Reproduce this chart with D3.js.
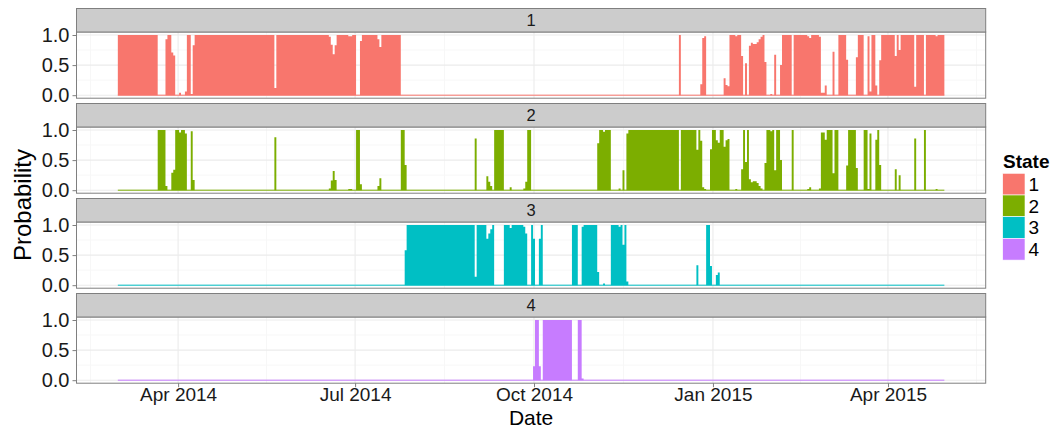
<!DOCTYPE html>
<html><head><meta charset="utf-8">
<script src="https://cdn.jsdelivr.net/npm/d3@7"></script>
<style>
body{margin:0;background:#fff}
svg{display:block}
text{font-family:"Liberation Sans",Arial,Helvetica,sans-serif}
</style>
</head><body>
<svg id="chart" width="1052" height="429"></svg>
<script>
// ---- data ----
const startDate = "2014-03-01";   // first daily observation
const stateNames = ["1", "2", "3", "4"];
const stateColors = ["#F8766D", "#7CAE00", "#00BFC4", "#C77CFF"];

const state1 = [
1,1,1,1,1,1,1,1,1,1,
1,1,1,1,1,1,1,1,1,1,
1,0,0,0,0,.93,1,1,.71,.66,
0,0,.04,0,0,.06,1,1,.02,.83,
1,1,1,1,1,1,1,1,1,1,
1,1,1,1,1,1,1,1,1,1,
1,1,1,1,1,1,1,1,1,1,
1,1,1,1,1,1,1,1,1,1,
1,.12,1,1,1,1,1,1,1,1,
1,1,1,1,1,1,1,1,1,1,
1,1,1,1,1,1,1,1,1,.97,
.84,.68,.83,1,1,1,1,1,1,.98,
.98,1,1,0,0,.9,1,1,1,1,
1,1,1,1,.93,.8,1,1,1,1,
1,1,1,1,1,1,0,0,0,0,
0,0,0,0,0,0,0,0,0,0,
0,0,0,0,0,0,0,0,0,0,
0,0,0,0,0,0,0,0,0,0,
0,0,0,0,0,0,0,0,0,0,
0,0,0,0,0,0,0,0,0,0,
0,0,0,0,0,0,0,0,0,0,
0,0,0,0,0,0,0,0,0,0,
0,0,0,0,0,0,0,0,0,0,
0,0,0,0,0,0,0,0,0,0,
0,0,0,0,0,0,0,0,0,0,
0,0,0,0,0,0,0,0,0,0,
0,0,0,0,0,0,0,0,0,0,
0,0,0,0,0,0,0,0,0,0,
0,0,0,0,0,0,0,0,0,1,
0,0,0,0,0,0,0,0,0,0,
.18,.95,.98,0,0,0,0,0,0,0,
0,0,.28,.17,.15,1,1,1,.98,1,
1,.65,0,.53,0,.82,.87,.85,.85,.88,
.93,.97,1,.55,0,0,.02,0,.67,0,
0,.5,1,1,1,1,1,0,1,1,
1,1,1,1,1,.98,.95,1,1,1,
1,.97,.04,.04,.16,0,0,0,.72,0,
0,1,1,1,1,.59,0,0,0,0,
.63,1,1,1,0,0,.98,.06,1,1,
.16,0,.58,1,1,1,1,1,1,1,
.65,1,.75,1,1,1,1,1,1,1,
.14,1,1,1,1,0,1,1,1,1,
1,.98,1,1,1,1
];

const state2 = [
0,0,0,0,0,0,0,0,0,0,
0,0,0,0,0,0,0,0,0,0,
0,1,1,1,1,.07,0,0,.29,.34,
1,1,.96,1,1,.94,0,0,.98,.17,
0,0,0,0,0,0,0,0,0,0,
0,0,0,0,0,0,0,0,0,0,
0,0,0,0,0,0,0,0,0,0,
0,0,0,0,0,0,0,0,0,0,
0,.88,0,0,0,0,0,0,0,0,
0,0,0,0,0,0,0,0,0,0,
0,0,0,0,0,0,0,0,0,.03,
.16,.32,.17,0,0,0,0,0,0,.02,
.02,0,0,1,1,.1,0,0,0,0,
0,0,0,0,.07,.2,0,0,0,0,
0,0,0,0,0,0,1,1,.42,0,
0,0,0,0,0,0,0,0,0,0,
0,0,0,0,0,0,0,0,0,0,
0,0,0,0,0,0,0,0,0,0,
0,0,0,0,.86,0,0,0,0,0,
.23,.14,.07,0,1,1,1,1,1,0,
0,0,.05,0,0,0,0,0,0,.03,
.14,1,1,0,0,0,0,0,0,0,
0,0,0,0,0,0,0,0,0,0,
0,0,0,0,0,0,0,0,0,0,
0,0,0,0,0,0,0,.78,1,1,
.97,1,1,1,0,0,0,0,.03,0,
.33,0,.94,1,1,1,1,1,1,1,
1,1,1,1,1,1,1,1,1,1,
1,1,1,1,1,1,1,1,1,0,
1,1,1,1,1,1,1,1,.67,1,
.82,.05,.02,0,0,.68,1,1,.83,.79,
1,1,.72,.83,.85,0,0,0,.02,0,
0,.35,1,.47,1,.18,.13,.15,.15,.12,
.07,.03,0,.45,1,1,.98,1,.33,1,
1,.5,0,0,0,0,0,1,0,0,
0,0,0,0,0,.02,.05,0,0,0,
0,.03,.96,.96,.84,1,1,1,.28,1,
1,0,0,0,0,.41,1,1,1,1,
.37,0,0,0,1,1,.02,.94,0,0,
.84,1,.42,0,0,0,0,0,0,0,
.35,0,.25,0,0,0,0,0,0,0,
.86,0,0,0,0,1,0,0,0,0,
0,.02,0,0,0,0
];

const state3 = [
0,0,0,0,0,0,0,0,0,0,
0,0,0,0,0,0,0,0,0,0,
0,0,0,0,0,0,0,0,0,0,
0,0,0,0,0,0,0,0,0,0,
0,0,0,0,0,0,0,0,0,0,
0,0,0,0,0,0,0,0,0,0,
0,0,0,0,0,0,0,0,0,0,
0,0,0,0,0,0,0,0,0,0,
0,0,0,0,0,0,0,0,0,0,
0,0,0,0,0,0,0,0,0,0,
0,0,0,0,0,0,0,0,0,0,
0,0,0,0,0,0,0,0,0,0,
0,0,0,0,0,0,0,0,0,0,
0,0,0,0,0,0,0,0,0,0,
0,0,0,0,0,0,0,0,.58,1,
1,1,1,1,1,1,1,1,1,1,
1,1,1,1,1,1,1,1,1,1,
1,1,1,1,1,1,1,1,1,1,
1,1,1,1,.14,1,1,1,1,1,
.77,.86,.93,1,0,0,0,0,0,1,
1,1,.95,1,1,1,1,1,1,.97,
.86,0,0,1,.77,0,0,.77,1,0,
0,0,0,0,0,0,0,0,0,0,
0,0,0,0,1,1,1,0,0,.97,
1,1,1,1,1,1,1,.22,0,0,
.03,0,0,0,1,1,1,1,.97,1,
.67,1,.06,0,0,0,0,0,0,0,
0,0,0,0,0,0,0,0,0,0,
0,0,0,0,0,0,0,0,0,0,
0,0,0,0,0,0,0,0,.33,0,
0,0,0,1,1,.32,0,0,.17,.21,
0,0,0,0,0,0,0,0,0,0,
0,0,0,0,0,0,0,0,0,0,
0,0,0,0,0,0,0,0,0,0,
0,0,0,0,0,0,0,0,0,0,
0,0,0,0,0,0,0,0,0,0,
0,0,0,0,0,0,0,0,0,0,
0,0,0,0,0,0,0,0,0,0,
0,0,0,0,0,0,0,0,0,0,
0,0,0,0,0,0,0,0,0,0,
0,0,0,0,0,0,0,0,0,0,
0,0,0,0,0,0,0,0,0,0,
0,0,0,0,0,0
];

const state4 = [
0,0,0,0,0,0,0,0,0,0,
0,0,0,0,0,0,0,0,0,0,
0,0,0,0,0,0,0,0,0,0,
0,0,0,0,0,0,0,0,0,0,
0,0,0,0,0,0,0,0,0,0,
0,0,0,0,0,0,0,0,0,0,
0,0,0,0,0,0,0,0,0,0,
0,0,0,0,0,0,0,0,0,0,
0,0,0,0,0,0,0,0,0,0,
0,0,0,0,0,0,0,0,0,0,
0,0,0,0,0,0,0,0,0,0,
0,0,0,0,0,0,0,0,0,0,
0,0,0,0,0,0,0,0,0,0,
0,0,0,0,0,0,0,0,0,0,
0,0,0,0,0,0,0,0,0,0,
0,0,0,0,0,0,0,0,0,0,
0,0,0,0,0,0,0,0,0,0,
0,0,0,0,0,0,0,0,0,0,
0,0,0,0,0,0,0,0,0,0,
0,0,0,0,0,0,0,0,0,0,
0,0,0,0,0,0,0,0,0,0,
0,0,0,0,.23,1,1,.23,0,1,
1,1,1,1,1,1,1,1,1,1,
1,1,1,1,0,0,0,1,1,.03,
0,0,0,0,0,0,0,0,0,0,
0,0,0,0,0,0,0,0,0,0,
0,0,0,0,0,0,0,0,0,0,
0,0,0,0,0,0,0,0,0,0,
0,0,0,0,0,0,0,0,0,0,
0,0,0,0,0,0,0,0,0,0,
0,0,0,0,0,0,0,0,0,0,
0,0,0,0,0,0,0,0,0,0,
0,0,0,0,0,0,0,0,0,0,
0,0,0,0,0,0,0,0,0,0,
0,0,0,0,0,0,0,0,0,0,
0,0,0,0,0,0,0,0,0,0,
0,0,0,0,0,0,0,0,0,0,
0,0,0,0,0,0,0,0,0,0,
0,0,0,0,0,0,0,0,0,0,
0,0,0,0,0,0,0,0,0,0,
0,0,0,0,0,0,0,0,0,0,
0,0,0,0,0,0,0,0,0,0,
0,0,0,0,0,0
];

const xTickDates = ["2014-04-01", "2014-07-01", "2014-10-01", "2015-01-01", "2015-04-01"];
const xTickLabels = ["Apr 2014", "Jul 2014", "Oct 2014", "Jan 2015", "Apr 2015"];
const yTicks = [0, 0.5, 1];
const yTickLabels = ["0.0", "0.5", "1.0"];
const yMinorTicks = [0.25, 0.75];

// ---- layout ----
const svg = d3.select("#chart");
const W = 1052, H = 429;
const L = 76.5, R = 985.7;
const stripTop0 = 8.5, facetStep = 95, stripH = 23.5, panelH = 66.2;
const seriesList = [state1, state2, state3, state4];

const parse = d3.utcParse("%Y-%m-%d");
const t0 = parse(startDate);
const n = state1.length;
const dates = d3.range(n).map(i => d3.utcDay.offset(t0, i));
const t1 = dates[n - 1];
const pad = (R - L) * 0.05 / 1.1;
const x = d3.scaleUtc().domain([t0, t1]).range([L + pad, R - pad]);

const majorDates = xTickDates.map(parse);
const ext = [d3.utcMonth.offset(majorDates[0], -3), ...majorDates, d3.utcMonth.offset(majorDates[majorDates.length - 1], 3)];
const minorDates = [];
for (let i = 0; i < ext.length - 1; i++) {
  minorDates.push(new Date((ext[i].getTime() + ext[i + 1].getTime()) / 2));
}
const xMin = x.invert(L), xMax = x.invert(R);

svg.append("rect").attr("width", W).attr("height", H).attr("fill", "#fff");

const defs = svg.append("defs");

seriesList.forEach((vals, k) => {
  const sTop = stripTop0 + k * facetStep;
  const pTop = sTop + stripH;
  const pBot = pTop + panelH;
  const y = d3.scaleLinear().domain([-0.05, 1.05]).range([pBot, pTop]);
  const g = svg.append("g");

  defs.append("clipPath").attr("id", "clip" + k)
    .append("rect").attr("x", L).attr("y", pTop).attr("width", R - L).attr("height", panelH);

  g.append("rect").attr("x", L).attr("y", pTop).attr("width", R - L).attr("height", panelH).attr("fill", "#fff");

  // minor grid
  g.selectAll(".vmin").data(minorDates.filter(d => d > xMin && d < xMax)).join("line")
    .attr("x1", d => x(d)).attr("x2", d => x(d)).attr("y1", pTop).attr("y2", pBot)
    .attr("stroke", "#f7f7f7").attr("stroke-width", 1);
  g.selectAll(".hmin").data(yMinorTicks).join("line")
    .attr("x1", L).attr("x2", R).attr("y1", d => y(d)).attr("y2", d => y(d))
    .attr("stroke", "#f7f7f7").attr("stroke-width", 1);
  // major grid
  g.selectAll(".vmaj").data(majorDates).join("line")
    .attr("x1", d => x(d)).attr("x2", d => x(d)).attr("y1", pTop).attr("y2", pBot)
    .attr("stroke", "#ebebeb").attr("stroke-width", 1.1);
  g.selectAll(".hmaj").data(yTicks).join("line")
    .attr("x1", L).attr("x2", R).attr("y1", d => y(d)).attr("y2", d => y(d))
    .attr("stroke", "#ebebeb").attr("stroke-width", 1.1);

  // area
  const area = d3.area()
    .x((d, i) => x(dates[i]))
    .y0(y(0))
    .y1(d => y(d))
    .curve(d3.curveStep);
  g.append("path").datum(vals)
    .attr("clip-path", "url(#clip" + k + ")")
    .attr("d", area)
    .attr("fill", stateColors[k]);
  g.append("line")
    .attr("x1", x(t0)).attr("x2", x(t1)).attr("y1", y(0)).attr("y2", y(0))
    .attr("stroke", stateColors[k]).attr("stroke-width", 1);

  // panel border
  g.append("rect").attr("x", L).attr("y", pTop).attr("width", R - L).attr("height", panelH)
    .attr("fill", "none").attr("stroke", "#7f7f7f").attr("stroke-width", 1);

  // strip
  g.append("rect").attr("x", L).attr("y", sTop).attr("width", R - L).attr("height", stripH)
    .attr("fill", "#cccccc").attr("stroke", "#7f7f7f").attr("stroke-width", 1);
  g.append("text").attr("x", (L + R) / 2).attr("y", sTop + stripH / 2)
    .attr("dy", "0.36em").attr("text-anchor", "middle")
    .attr("font-size", 16.5).attr("fill", "#1a1a1a").text(stateNames[k]);

  // y axis
  const yAxis = d3.axisLeft(y).tickValues(yTicks)
    .tickFormat((d, i) => yTickLabels[i]).tickSize(4).tickPadding(3);
  const ya = g.append("g").attr("transform", `translate(${L},0)`).call(yAxis);
  ya.select(".domain").remove();
  ya.selectAll(".tick line").attr("stroke", "#7f7f7f");
  ya.selectAll(".tick text").attr("font-size", 20).attr("fill", "#1a1a1a")
    .attr("font-family", "'Liberation Sans', Arial, sans-serif");

  if (k === seriesList.length - 1) {
    const xAxis = d3.axisBottom(x).tickValues(majorDates)
      .tickFormat((d, i) => xTickLabels[i]).tickSize(4).tickPadding(0.3);
    const xa = g.append("g").attr("transform", `translate(0,${pBot})`).call(xAxis);
    xa.select(".domain").remove();
    xa.selectAll(".tick line").attr("stroke", "#7f7f7f");
    xa.selectAll(".tick text").attr("font-size", 19).attr("fill", "#1a1a1a")
      .attr("font-family", "'Liberation Sans', Arial, sans-serif");
  }
});

// axis titles
svg.append("text").attr("x", (L + R) / 2).attr("y", 424.5)
  .attr("text-anchor", "middle").attr("font-size", 21).attr("fill", "#000").text("Date");
svg.append("text").attr("transform", "translate(31,205) rotate(-90)")
  .attr("text-anchor", "middle").attr("font-size", 24).attr("fill", "#000").text("Probability");

// legend
const lg = svg.append("g");
lg.append("text").attr("x", 1003).attr("y", 168).attr("font-size", 19)
  .attr("font-weight", "bold").attr("fill", "#000").text("State");
const keyH = 21.7, keyW = 22.3, keyTop = 173.3, keyX = 1002.7;
stateNames.forEach((s, i) => {
  lg.append("rect").attr("x", keyX).attr("y", keyTop + i * keyH).attr("width", keyW).attr("height", keyH)
    .attr("fill", stateColors[i]).attr("stroke", "#fff").attr("stroke-width", 0.6);
  lg.append("text").attr("x", keyX + keyW + 3.5).attr("y", keyTop + i * keyH + keyH / 2)
    .attr("dy", "0.36em").attr("font-size", 19).attr("fill", "#000").text(s);
});
</script>
</body></html>
